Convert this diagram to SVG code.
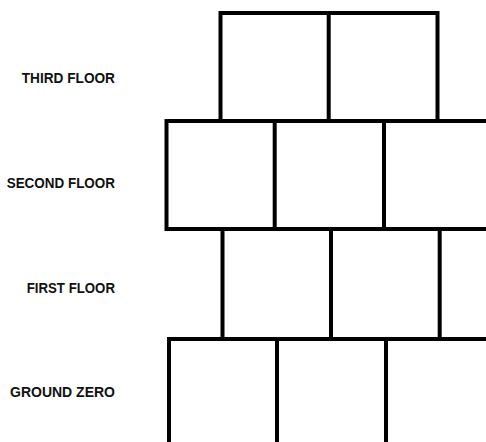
<svg xmlns="http://www.w3.org/2000/svg" width="486" height="442" viewBox="0 0 486 442">
<style>
.w{fill:none;stroke:#000;stroke-width:4;stroke-linecap:square}
.t{font-family:"Liberation Sans",Arial,sans-serif;font-weight:bold;font-size:15px;fill:#111}
</style>
<rect width="486" height="442" fill="#fff"/>
<g id="labels">
<text class="t" x="21.7" y="83.3" textLength="93.3" lengthAdjust="spacingAndGlyphs">THIRD FLOOR</text>
<text class="t" x="6.7" y="187.7" textLength="108.3" lengthAdjust="spacingAndGlyphs">SECOND FLOOR</text>
<text class="t" x="26.7" y="293.3" textLength="88.3" lengthAdjust="spacingAndGlyphs">FIRST FLOOR</text>
<text class="t" x="10" y="396.6" textLength="105" lengthAdjust="spacingAndGlyphs">GROUND ZERO</text>
</g>
<g id="third-floor">
<path class="w" d="M220.5 121V13H437.5V121M328.7 13V121"/>
</g>
<g id="second-floor">
<path class="w" d="M490 121H166.5V229H490M274.7 121V229M384 121V229"/>
</g>
<g id="first-floor">
<path class="w" d="M222.5 229V339M331 229V339M439.7 229V339"/>
</g>
<g id="ground-zero">
<path class="w" d="M490 339H169V446M277 339V446M386 339V446"/>
</g>
</svg>
